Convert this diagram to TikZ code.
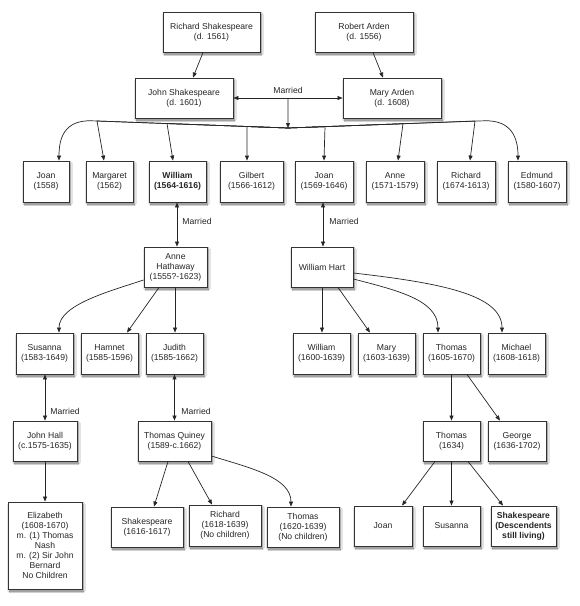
\documentclass[tikz,border=0pt]{standalone}
\usepackage{fontspec}
\setmainfont{Liberation Sans}
\usetikzlibrary{arrows.meta,shadows.blur,calc}
\begin{document}
\begin{tikzpicture}[x=1pt,y=-1pt,
  box/.style={draw=black!80, line width=0.9pt, fill=white, inner sep=0pt,
    minimum height=40pt, align=center, text=black!85,
    font=\fontsize{8.6}{10}\selectfont,
    blur shadow={shadow xshift=1.5pt,shadow yshift=-2pt,shadow blur steps=6,shadow blur radius=1.6pt,shadow opacity=55}},
  conn/.style={draw=black!85, line width=0.7pt, -{Triangle[length=5pt,width=4pt]}},
  married/.style={draw=black!85, line width=0.7pt, {Triangle[length=5pt,width=4pt]}-{Triangle[length=5pt,width=4pt]}},
  lbl/.style={text=black!85, font=\fontsize{8.6}{10}\selectfont, inner sep=0pt}]
\useasboundingbox (0,0) rectangle (580,606);
\fill[white] (0,0) rectangle (580,606);

% generation 1
\node[box, minimum width=97pt] (rs) at (211.5,32) {Richard Shakespeare\\(d. 1561)};
\node[box, minimum width=98pt] (ra) at (364,32) {Robert Arden\\(d. 1556)};
% generation 2
\node[box, minimum width=98pt] (js) at (184,98) {John Shakespeare\\(d. 1601)};
\node[box, minimum width=98pt] (ma) at (392,98) {Mary Arden\\(d. 1608)};
% generation 3
\node[box, minimum width=46pt, minimum height=41pt] (c1) at (46,181.5) {Joan\\(1558)};
\node[box, minimum width=47pt, minimum height=41pt] (c2) at (109.5,181.5) {Margaret\\(1562)};
\node[box, minimum width=57pt, minimum height=41pt, font=\fontsize{8.6}{10}\selectfont\bfseries] (c3) at (177.5,181.5) {William\\(1564-1616)};
\node[box, minimum width=63pt, minimum height=41pt] (c4) at (251.5,181.5) {Gilbert\\(1566-1612)};
\node[box, minimum width=58pt, minimum height=41pt] (c5) at (324,181.5) {Joan\\(1569-1646)};
\node[box, minimum width=58pt, minimum height=41pt] (c6) at (395,181.5) {Anne\\(1571-1579)};
\node[box, minimum width=58pt, minimum height=41pt] (c7) at (466,181.5) {Richard\\(1674-1613)};
\node[box, minimum width=58pt, minimum height=41pt] (c8) at (537,181.5) {Edmund\\(1580-1607)};
% spouses
\node[box, minimum width=63pt] (ah) at (175.5,267) {Anne\\Hathaway\\(1555?-1623)};
\node[box, minimum width=62pt] (wh) at (322,267) {William Hart};
% generation 4
\node[box, minimum width=57pt, minimum height=41pt] (su) at (44.5,353.5) {Susanna\\(1583-1649)};
\node[box, minimum width=57pt, minimum height=41pt] (ha) at (109.5,353.5) {Hamnet\\(1585-1596)};
\node[box, minimum width=57pt, minimum height=41pt] (ju) at (174.5,353.5) {Judith\\(1585-1662)};
\node[box, minimum width=57pt, minimum height=41pt] (wi) at (321.5,353.5) {William\\(1600-1639)};
\node[box, minimum width=57pt, minimum height=41pt] (mr) at (386.5,353.5) {Mary\\(1603-1639)};
\node[box, minimum width=57pt, minimum height=41pt] (th) at (451.5,353.5) {Thomas\\(1605-1670)};
\node[box, minimum width=57pt, minimum height=41pt] (mi) at (516.5,353.5) {Michael\\(1608-1618)};
% row 4
\node[box, minimum width=64pt] (jh) at (45,441) {John Hall\\(c.1575-1635)};
\node[box, minimum width=73pt] (tq) at (174.5,441) {Thomas Quiney\\(1589-c.1662)};
\node[box, minimum width=57pt] (t2) at (451.5,441) {Thomas\\(1634)};
\node[box, minimum width=58pt] (ge) at (517,441) {George\\(1636-1702)};
% row 5
\node[box, minimum width=74pt, minimum height=87pt] (el) at (45,545.5) {Elizabeth\\(1608-1670)\\m. (1) Thomas\\Nash\\m. (2) Sir John\\Bernard\\No Children};
\node[box, minimum width=72pt] (sh) at (147,527) {Shakespeare\\(1616-1617)};
\node[box, minimum width=72pt, minimum height=41pt] (ri) at (225,525.5) {Richard\\(1618-1639)\\(No children)};
\node[box, minimum width=72pt] (t3) at (303,527) {Thomas\\(1620-1639)\\(No children)};
\node[box, minimum width=58pt] (jo) at (383,526) {Joan};
\node[box, minimum width=57pt] (sn) at (451.5,526) {Susanna};
\node[box, minimum width=65pt, font=\fontsize{8.6}{10}\selectfont\bfseries] (sd) at (523.5,526) {Shakespeare\\(Descendents\\still living)};

% parents to John and Mary
\draw[conn] ([xshift=-8.5pt]rs.south) -- ([xshift=9pt]js.north);
\draw[conn] ([xshift=9pt]ra.south) -- ([xshift=-9pt]ma.north);

% marriage John - Mary
\draw[married] (js.east) -- (ma.west);
\coordinate (J) at ($(js.east)!0.5!(ma.west)$);
\coordinate (J2) at (288,128);
\node[lbl] (m1) at (288,90) {Married};
\draw[conn] (J) -- (J2);

% children of John and Mary
\draw[conn] (J2) -- (92,120.8) .. controls +(-28,-1) and +(0,-22) .. ([xshift=13pt]c1.north);
\draw[conn] (J2) -- (97,121) -- ([xshift=-5.5pt]c2.north);
\draw[conn] (J2) -- (167,123.5) -- ([xshift=-4.5pt]c3.north);
\draw[conn] (J2) -- (247,126.5) -- ([xshift=-4.5pt]c4.north);
\draw[conn] (J2) -- (325,126.6) -- (c5.north);
\draw[conn] (J2) -- (403,123.7) -- ([xshift=3pt]c6.north);
\draw[conn] (J2) -- (475,121) -- ([xshift=4pt]c7.north);
\draw[conn] (J2) -- (484,120.8) .. controls +(28,-1) and +(0,-22) .. ([xshift=-19pt]c8.north);

% marriages of William and Joan
\draw[married] (c3.south -| 177,0) -- (ah.north -| 177,0);
\node[lbl] (m2) at (197,221) {Married};
\draw[married] (c5.south -| 323,0) -- (wh.north -| 323,0);
\node[lbl] (m3) at (344,221) {Married};

% children of William and Anne
\draw[conn] ([yshift=-13pt]ah.west) .. controls +(-33,11) and +(0,-28) .. ([xshift=14.5pt]su.north);
\draw[conn] ([xshift=-16.5pt]ah.south) -- ([xshift=17.5pt]ha.north);
\draw[conn] (ah.south -| 175,0) -- (ju.north -| 175,0);

% children of Joan and William Hart
\draw[conn] (wh.south) -- (wh.south |- wi.north);
\draw[conn] ([xshift=16pt]wh.south) -- ([xshift=-16.5pt]mr.north);
\draw[conn] ([yshift=-12pt]wh.east) .. controls +(42,11) and +(0,-33) .. ([xshift=-13.5pt]th.north);
\draw[conn] ([yshift=-6pt]wh.east) .. controls +(87,10) and +(0,-38) .. ([xshift=-14.5pt]mi.north);

% marriages of Susanna and Judith
\draw[married] (su.south -| 45,0) -- (jh.north -| 45,0);
\node[lbl] (m4) at (65,411) {Married};
\draw[married] (ju.south -| 174.5,0) -- (tq.north -| 174.5,0);
\node[lbl] (m5) at (196,411) {Married};

% John Hall to Elizabeth
\draw[conn] (jh.south) -- (el.north);

% children of Thomas Quiney
\draw[conn] ([xshift=-6.5pt]tq.south) -- ([xshift=7pt]sh.north);
\draw[conn] ([xshift=13.5pt]tq.south) -- ([xshift=-13pt]ri.north);
\draw[conn] ([yshift=-15pt]tq.east) .. controls +(39,12) and +(0,-29) .. ([xshift=-12pt]t3.north);

% Thomas (1605-1670) line
\draw[conn] (th.south) -- (t2.north);
\draw[conn] ([xshift=15.5pt]th.south) -- ([xshift=-17pt]ge.north);
\draw[conn] ([xshift=-16.5pt]t2.south) -- ([xshift=19pt]jo.north);
\draw[conn] (t2.south) -- (sn.north);
\draw[conn] ([xshift=16.5pt]t2.south) -- ([xshift=-20.5pt]sd.north);
\end{tikzpicture}
\end{document}
